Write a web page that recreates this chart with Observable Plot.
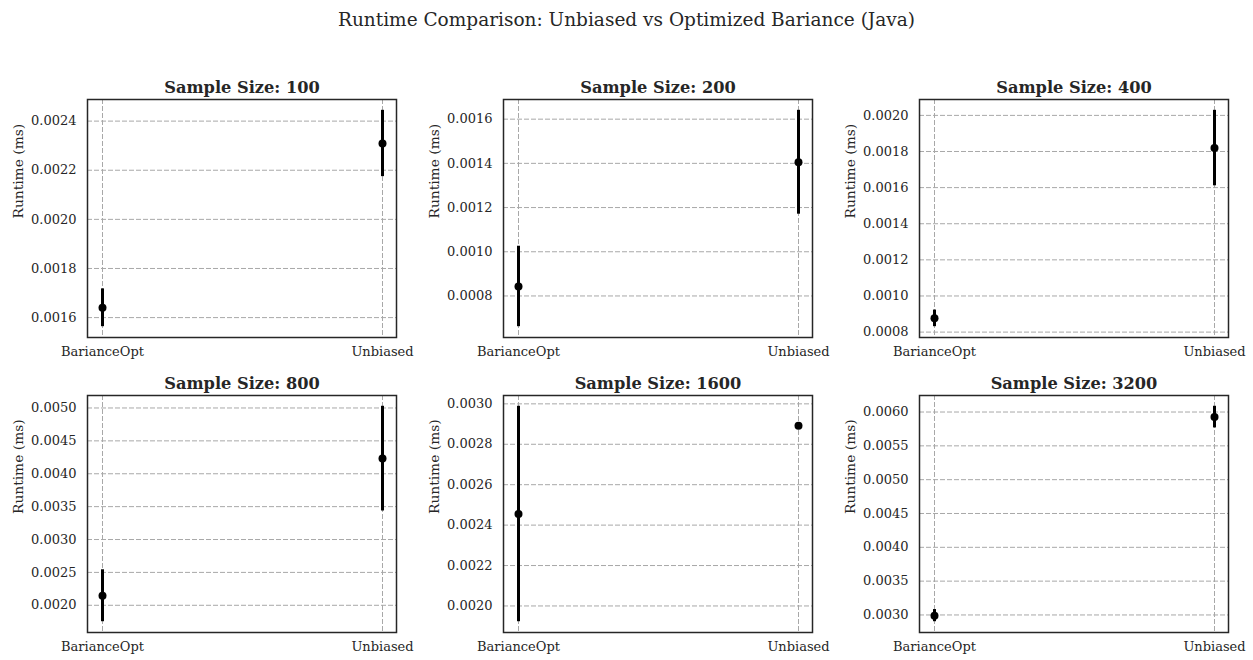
<!DOCTYPE html>
<html>
<head>
<meta charset="utf-8">
<script src="https://cdn.jsdelivr.net/npm/d3@7"></script>
<script src="https://cdn.jsdelivr.net/npm/@observablehq/plot@0.6"></script>
<style>
  body { margin: 0; background: white; }
  #root { position: relative; width: 1253px; height: 660px; background: white; overflow: hidden; font-family: "DejaVu Serif", serif; }
  #suptitle { position: absolute; left: 0; width: 1253px; top: 9px; text-align: center; font-size: 18.5px; color: #262626; }
  .panel { position: absolute; }
</style>
</head>
<body>
<div id="root">
  <div id="suptitle">Runtime Comparison: Unbiased vs Optimized Bariance (Java)</div>
</div>
<script>
// ---- data ----
const sampleSizes = [100, 200, 400, 800, 1600, 3200];
const methods = ["BarianceOpt", "Unbiased"];
const optMean = [0.00164, 0.000843, 0.000876, 0.002145, 0.002455, 0.00299];
const optErr  = [0.000077, 0.000182, 0.000046, 0.000395, 0.000533, 0.00009];
const unbMean = [0.002309, 0.001405, 0.001819, 0.00423, 0.002892, 0.005925];
const unbErr  = [0.000135, 0.000235, 0.000209, 0.000796, 0.000008, 0.00016];
const yTicks = [
  [0.0016, 0.0018, 0.0020, 0.0022, 0.0024],
  [0.0008, 0.0010, 0.0012, 0.0014, 0.0016],
  [0.0008, 0.0010, 0.0012, 0.0014, 0.0016, 0.0018, 0.0020],
  [0.0020, 0.0025, 0.0030, 0.0035, 0.0040, 0.0045, 0.0050],
  [0.0020, 0.0022, 0.0024, 0.0026, 0.0028, 0.0030],
  [0.0030, 0.0035, 0.0040, 0.0045, 0.0050, 0.0055, 0.0060]
];

const root = document.getElementById("root");
const gridStyle = {stroke: "#a8a8a8", strokeOpacity: 1, strokeWidth: 1, strokeDasharray: "5,2"};

sampleSizes.forEach((n, i) => {
  const data = [
    {method: methods[0], mean: optMean[i], err: optErr[i]},
    {method: methods[1], mean: unbMean[i], err: unbErr[i]}
  ];
  const lo = d3.min(data, d => d.mean - d.err);
  const hi = d3.max(data, d => d.mean + d.err);
  const pad = (hi - lo) * 0.05;
  const row = Math.floor(i / 3), col = i % 3;

  const chart = Plot.plot({
    width: 416,
    height: 300,
    marginLeft: 87,
    marginRight: 20,
    marginTop: row === 0 ? 39 : 35,
    marginBottom: row === 0 ? 23 : 28,
    style: {background: "transparent", fontFamily: "DejaVu Serif", fontSize: "13px", color: "#262626", overflow: "visible"},
    x: {type: "point", domain: methods, padding: 0.05},
    y: {domain: [lo - pad, hi + pad]},
    marks: [
      Plot.gridY(yTicks[i], gridStyle),
      Plot.gridX(methods, gridStyle),
      Plot.axisY(yTicks[i], {tickSize: 0, tickPadding: 11, tickFormat: d3.format(".4f"), label: null, fontSize: 13}),
      Plot.axisX(methods, {tickSize: 0, tickPadding: 9, label: null, fontSize: 13}),
      Plot.ruleX(data, {x: "method", y1: d => d.mean - d.err, y2: d => d.mean + d.err, stroke: "black", strokeWidth: 3}),
      Plot.dot(data, {x: "method", y: "mean", r: 4, fill: "black", stroke: null}),
      Plot.frame({stroke: "#262626", strokeWidth: 1.5}),
      Plot.text(["Sample Size: " + n], {frameAnchor: "top", dy: -7, lineAnchor: "bottom", fontWeight: "bold", fontSize: 16.2, fill: "#262626"}),
      Plot.text(["Runtime (ms)"], {frameAnchor: "left", dx: -69, rotate: -90, fontSize: 13.8, fill: "#262626"})
    ]
  });
  chart.classList.add("panel");
  chart.style.left = (col * 416) + "px";
  chart.style.top = (row === 0 ? 60 : 360) + "px";
  root.appendChild(chart);
});
</script>
</body>
</html>
